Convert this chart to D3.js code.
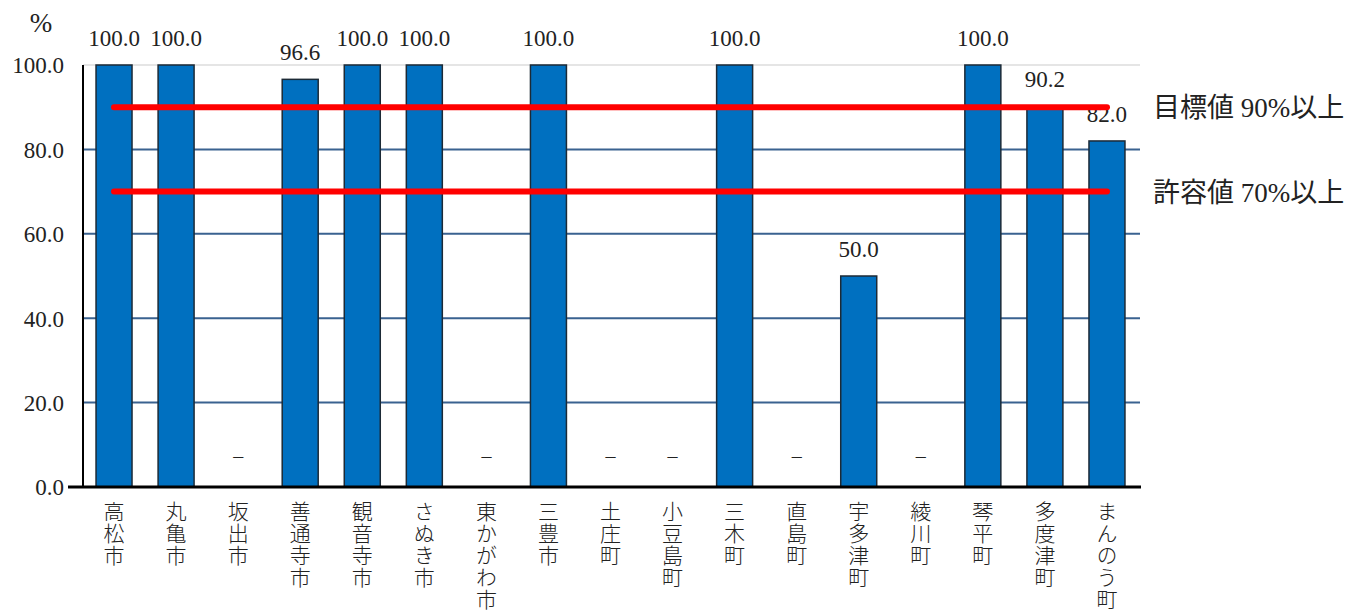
<!DOCTYPE html>
<html lang="ja">
<head>
<meta charset="UTF-8">
<title>達成率</title>
<script src="https://d3js.org/d3.v7.min.js"></script>
<style>
  body { margin: 0; background: #fff; }
  .num { font-family: "Liberation Serif", "DejaVu Serif", serif; font-size: 23px; fill: #222; }
  .cat { font-family: "Noto Sans CJK JP", sans-serif; font-weight: 300; font-size: 21px; fill: #222;
         writing-mode: vertical-rl; letter-spacing: 1px; }
  .legend { font-family: "Liberation Serif", "Noto Sans CJK JP", serif; font-size: 27px; fill: #222; }
</style>
</head>
<body>
<svg id="main" width="1368" height="612"></svg>
<script>
  // data
  let categories = ['高松市', '丸亀市', '坂出市', '善通寺市', '観音寺市', 'さぬき市', '東かがわ市', '三豊市',
    '土庄町', '小豆島町', '三木町', '直島町', '宇多津町', '綾川町', '琴平町', '多度津町', 'まんのう町'];
  let values = [100, 100, null, 96.6, 100, 100, null, 100, null, null, 100, null, 50, null, 100, 90.2, 82.0];
  let yTicks = [0, 20, 40, 60, 80, 100];
  let targets = [
    {value: 90, label: '目標値 90%以上'},
    {value: 70, label: '許容値 70%以上'}
  ];

  let svg = d3.select('svg#main');
  let data = categories.map(function(c, i){ return {name: c, value: values[i]}; });

  let xScale = d3.scaleBand().domain(categories).range([83, 1138]).paddingInner(0.42).paddingOuter(0.21);
  let yScale = d3.scaleLinear().domain([0, 100]).range([487, 65]);

  // grid lines
  svg.append('g').selectAll('line')
    .data(yTicks.filter(function(d){ return d > 0; }))
    .enter().append('line')
    .attr('x1', 83).attr('x2', 1140)
    .attr('y1', function(d){ return yScale(d); })
    .attr('y2', function(d){ return yScale(d); })
    .attr('stroke', function(d){ return d === 100 ? '#dcdcdc' : '#3a6290'; })
    .attr('stroke-width', function(d){ return d === 100 ? 1.5 : 2; });

  // y axis
  let yAxis = svg.append('g')
    .attr('transform', 'translate(83,0)')
    .call(d3.axisLeft(yScale).tickValues(yTicks).tickSize(0).tickPadding(19).tickFormat(d3.format('.1f')));
  yAxis.select('.domain').remove();
  yAxis.selectAll('text').attr('class', 'num').attr('font-family', null).attr('font-size', null).attr('dy', '0.34em');

  svg.append('line').attr('x1', 83).attr('x2', 83).attr('y1', 65).attr('y2', 487)
    .attr('stroke', '#000').attr('stroke-width', 2);

  svg.append('text').attr('class', 'num').attr('x', 41).attr('y', 32)
    .attr('text-anchor', 'middle').style('font-size', '27px').text('%');

  // bars
  svg.append('g').selectAll('rect')
    .data(data.filter(function(d){ return d.value !== null; }))
    .enter().append('rect')
    .attr('x', function(d){ return xScale(d.name); })
    .attr('width', xScale.bandwidth())
    .attr('y', function(d){ return yScale(d.value); })
    .attr('height', function(d){ return yScale(0) - yScale(d.value); })
    .attr('fill', '#0070c0')
    .attr('stroke', '#1c2a36')
    .attr('stroke-width', 1.5);

  // x axis line
  svg.append('line').attr('x1', 68).attr('x2', 1141).attr('y1', 487).attr('y2', 487)
    .attr('stroke', '#000').attr('stroke-width', 3);

  // value labels
  svg.append('clipPath').attr('id', 'lblclip')
    .append('rect').attr('x', 0).attr('y', 0).attr('width', 1129).attr('height', 612);

  svg.append('g').attr('clip-path', 'url(#lblclip)').selectAll('text')
    .data(data)
    .enter().append('text')
    .attr('class', 'num')
    .attr('text-anchor', 'middle')
    .attr('x', function(d){ return xScale(d.name) + xScale.bandwidth() / 2; })
    .attr('y', function(d){ return d.value === null ? yScale(0) - 24 : yScale(d.value) - 19; })
    .style('font-size', function(d){ return d.value === null ? '20px' : null; })
    .text(function(d){ return d.value === null ? '–' : d.value.toFixed(1); });

  // target lines
  let first = xScale(categories[0]) + xScale.bandwidth() / 2;
  let last = xScale(categories[categories.length - 1]) + xScale.bandwidth() / 2;
  svg.append('g').selectAll('line')
    .data(targets)
    .enter().append('line')
    .attr('x1', first).attr('x2', last)
    .attr('y1', function(d){ return yScale(d.value); })
    .attr('y2', function(d){ return yScale(d.value); })
    .attr('stroke', '#ff0000')
    .attr('stroke-width', 6)
    .attr('stroke-linecap', 'round');

  svg.append('g').selectAll('text')
    .data(targets)
    .enter().append('text')
    .attr('class', 'legend')
    .attr('x', 1153)
    .attr('y', function(d){ return yScale(d.value) + 10; })
    .text(function(d){ return d.label; });

  // vertical category labels
  svg.append('g').selectAll('text')
    .data(categories)
    .enter().append('text')
    .attr('class', 'cat')
    .attr('x', function(d){ return xScale(d) + xScale.bandwidth() / 2; })
    .attr('y', 501)
    .text(function(d){ return d; });
</script>
</body>
</html>
